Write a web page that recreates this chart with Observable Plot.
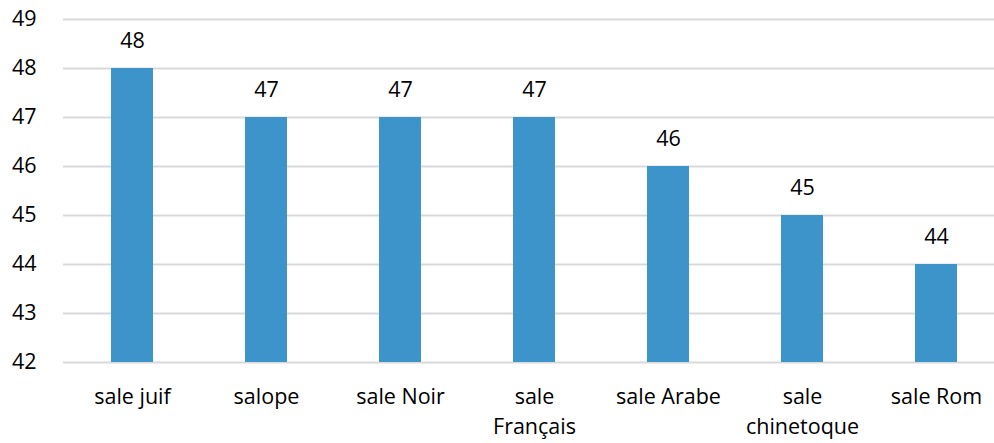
<!DOCTYPE html>
<html>
<head>
<meta charset="utf-8">
<script src="https://cdn.jsdelivr.net/npm/d3@7"></script>
<script src="https://cdn.jsdelivr.net/npm/@observablehq/plot@0.6"></script>
<style>
  html, body { margin: 0; padding: 0; background: #fff; }
  #chart svg { display: block; font-family: "Open Sans", sans-serif; }
</style>
</head>
<body>
<div id="chart"></div>
<script>
const categories = ["sale juif", "salope", "sale Noir", "sale Français", "sale Arabe", "sale chinetoque", "sale Rom"];
const tickLabels = ["sale juif", "salope", "sale Noir", "sale\nFrançais", "sale Arabe", "sale\nchinetoque", "sale Rom"];
const values = [48, 47, 47, 47, 46, 45, 44];
const yTicks = [42, 43, 44, 45, 46, 47, 48, 49];

const data = categories.map((c, i) => ({cat: c, value: values[i]}));
const labelOf = new Map(categories.map((c, i) => [c, tickLabels[i]]));

const chart = Plot.plot({
  width: 994,
  height: 443,
  marginLeft: 63,
  marginRight: 0,
  marginTop: 19,
  marginBottom: 81,
  style: {fontFamily: "'Open Sans', sans-serif", fontSize: "21.5px", color: "#000", overflow: "visible"},
  x: {domain: categories, range: [63, 1004], paddingInner: 0.6875, paddingOuter: 0.34375, align: 0.5, label: null},
  y: {domain: [42, 49], label: null},
  marks: [
    Plot.ruleY(yTicks, {stroke: "#d9d9d9", strokeWidth: 2}),
    Plot.barY(data, {x: "cat", y1: 42, y2: "value", fill: "#3c94cb"}),
    Plot.text(data, {x: "cat", y: "value", text: d => String(d.value), dy: -27, fontSize: 21.5, fill: "#000"}),
    Plot.axisY(yTicks, {tickSize: 0, tickPadding: 27, fontSize: 21.5, label: null}),
    Plot.axisX({tickSize: 0, tickPadding: 21, fontSize: 21.5, lineHeight: 1.36, tickFormat: d => labelOf.get(d), label: null})
  ]
});
document.getElementById("chart").appendChild(chart);
</script>
</body>
</html>
